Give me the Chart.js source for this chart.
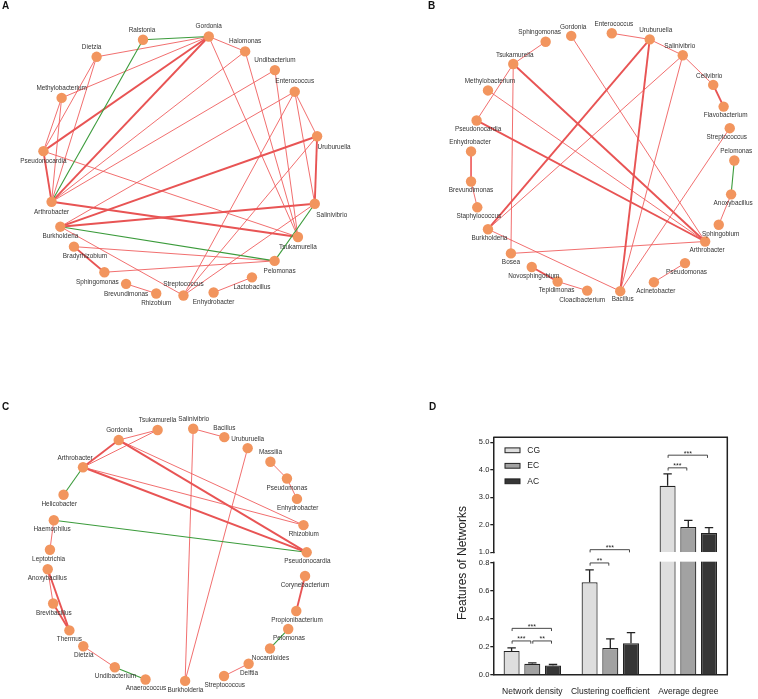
<!DOCTYPE html>
<html>
<head>
<meta charset="utf-8">
<script src="https://cdn.jsdelivr.net/npm/chart.js"></script>
<style>
  body { margin: 0; background: #fff; }
  #wrap { position: relative; width: 758px; height: 699px; overflow: hidden; }
  canvas { position: absolute; }
  .tag { position: absolute; font: bold 10px Arial, "Liberation Sans", sans-serif; color: #111; line-height: 10px; }
</style>
</head>
<body>
<div id="wrap">
  <canvas id="netA" width="379" height="330" style="left:0;top:0"></canvas>
  <canvas id="netB" width="379" height="330" style="left:379px;top:0"></canvas>
  <canvas id="netC" width="379" height="359" style="left:0;top:340px"></canvas>
  <canvas id="barsD" width="379" height="359" style="left:379px;top:340px"></canvas>
  <div class="tag" style="left:2px;top:1px">A</div>
  <div class="tag" style="left:428px;top:1px">B</div>
  <div class="tag" style="left:2px;top:402px">C</div>
  <div class="tag" style="left:429px;top:402px">D</div>
</div>
<script>
// ---- network A (CG) ----
const namesA = ["Ralstonia", "Gordonia", "Halomonas", "Undibacterium", "Enterococcus", "Uruburuella",
    "Salinivibrio", "Tsukamurella", "Pelomonas", "Lactobacillus", "Enhydrobacter", "Streptococcus",
    "Rhizobium", "Brevundimonas", "Sphingomonas", "Bradyrhizobium", "Burkholderia", "Arthrobacter",
    "Pseudonocardia", "Methylobacterium", "Dietzia"];
const xA = [141.7, 209.3, 246.7, 277.3, 297.7, 320.7, 318.3, 301, 277, 253.7, 214.3, 183.3,
    155.3, 124.3, 102, 70.7, 56.7, 47.7, 39.3, 58, 94];
const yA = [35.7, 32.3, 47.7, 67, 89.3, 135.3, 205, 239.3, 264, 281, 296.7, 299.7,
    297.7, 287.7, 275.7, 249.3, 228.7, 203, 150.7, 95.7, 53.3];
// [from, to, sign (+1 positive / -1 negative), weight]
const edgesA = [
    ["Ralstonia", "Gordonia", -1, 1], ["Ralstonia", "Arthrobacter", -1, 1],
    ["Burkholderia", "Pelomonas", -1, 1], ["Salinivibrio", "Pelomonas", -1, 1],
    ["Dietzia", "Gordonia", 1, 1], ["Gordonia", "Halomonas", 1, 1],
    ["Gordonia", "Methylobacterium", 1, 1], ["Gordonia", "Pseudonocardia", 1, 2],
    ["Gordonia", "Arthrobacter", 1, 2], ["Gordonia", "Tsukamurella", 1, 1],
    ["Halomonas", "Tsukamurella", 1, 1], ["Halomonas", "Arthrobacter", 1, 1],
    ["Undibacterium", "Tsukamurella", 1, 1], ["Undibacterium", "Arthrobacter", 1, 1],
    ["Enterococcus", "Uruburuella", 1, 1], ["Enterococcus", "Salinivibrio", 1, 1],
    ["Enterococcus", "Streptococcus", 1, 1], ["Enterococcus", "Burkholderia", 1, 1],
    ["Uruburuella", "Salinivibrio", 1, 2], ["Uruburuella", "Burkholderia", 1, 2],
    ["Uruburuella", "Streptococcus", 1, 1], ["Salinivibrio", "Burkholderia", 1, 2],
    ["Salinivibrio", "Streptococcus", 1, 1], ["Arthrobacter", "Tsukamurella", 1, 2],
    ["Pseudonocardia", "Tsukamurella", 1, 1], ["Burkholderia", "Streptococcus", 1, 1],
    ["Bradyrhizobium", "Pelomonas", 1, 1], ["Bradyrhizobium", "Sphingomonas", 1, 2],
    ["Sphingomonas", "Pelomonas", 1, 1], ["Brevundimonas", "Rhizobium", 1, 1],
    ["Enhydrobacter", "Lactobacillus", 1, 1], ["Dietzia", "Pseudonocardia", 1, 1],
    ["Dietzia", "Arthrobacter", 1, 1], ["Methylobacterium", "Pseudonocardia", 1, 1],
    ["Methylobacterium", "Arthrobacter", 1, 1], ["Pseudonocardia", "Arthrobacter", 1, 2]
];

// ---- network B (EC) ----
const namesB = ["Sphingomonas", "Gordonia", "Enterococcus", "Uruburuella", "Salinivibrio", "Cellvibrio",
    "Flavobacterium", "Streptococcus", "Pelomonas", "Anoxybacillus", "Sphingobium", "Arthrobacter",
    "Pseudomonas", "Acinetobacter", "Bacillus", "Cloacibacterium", "Tepidimonas", "Novosphingobium",
    "Bosea", "Burkholderia", "Staphylococcus", "Brevundimonas", "Enhydrobacter", "Pseudonocardia",
    "Methylobacterium", "Tsukamurella"];
const xB = [545, 571.3, 613, 652, 686, 717.3, 728, 734.3, 739, 735.7, 723, 709, 688.3, 656.3,
    621.7, 587.7, 557.3, 530.7, 509.3, 485.7, 474.7, 468.3, 468.3, 474, 485.7, 511.7];
const yB = [37.7, 31.7, 29, 35.3, 51.7, 82.3, 104.7, 127, 160.3, 195.3, 226.7, 244, 266.3, 286,
    295.3, 294.7, 285.3, 270.3, 256.3, 231.3, 208.7, 182, 151, 119, 88, 60.7];
const edgesB = [
    ["Sphingomonas", "Tsukamurella", 1, 1], ["Enterococcus", "Uruburuella", 1, 1],
    ["Uruburuella", "Salinivibrio", 1, 1], ["Salinivibrio", "Cellvibrio", 1, 1],
    ["Cellvibrio", "Flavobacterium", 1, 2], ["Pelomonas", "Anoxybacillus", -1, 1],
    ["Anoxybacillus", "Sphingobium", 1, 1], ["Pseudomonas", "Acinetobacter", 1, 1],
    ["Novosphingobium", "Tepidimonas", 1, 2], ["Tepidimonas", "Cloacibacterium", 1, 1],
    ["Enhydrobacter", "Brevundimonas", 1, 1], ["Brevundimonas", "Staphylococcus", 1, 1],
    ["Tsukamurella", "Pseudonocardia", 1, 1], ["Tsukamurella", "Bosea", 1, 1],
    ["Tsukamurella", "Arthrobacter", 1, 2], ["Gordonia", "Arthrobacter", 1, 1],
    ["Methylobacterium", "Arthrobacter", 1, 1], ["Pseudonocardia", "Arthrobacter", 1, 2],
    ["Uruburuella", "Burkholderia", 1, 2], ["Salinivibrio", "Burkholderia", 1, 1],
    ["Uruburuella", "Bacillus", 1, 2], ["Salinivibrio", "Bacillus", 1, 1],
    ["Streptococcus", "Bacillus", 1, 1], ["Burkholderia", "Bacillus", 1, 1],
    ["Bosea", "Arthrobacter", 1, 1]
];

// ---- network C (AC) ----
const namesC = ["Tsukamurella", "Salinivibrio", "Bacillus", "Uruburuella", "Massilia", "Pseudomonas",
    "Enhydrobacter", "Rhizobium", "Pseudonocardia", "Corynebacterium", "Propionibacterium", "Pelomonas",
    "Nocardioides", "Delftia", "Streptococcus", "Burkholderia", "Anaerococcus", "Undibacterium",
    "Dietzia", "Thermus", "Brevibacillus", "Anoxybacillus", "Leptotrichia", "Haemophilus",
    "Helicobacter", "Arthrobacter", "Gordonia"];
const xC = [156.7, 193.3, 225.3, 249.3, 272.7, 289.7, 300, 306.7, 310, 308.3, 299.3, 291, 272.3,
    250.3, 225, 185, 144.3, 112.7, 80.3, 66, 49.3, 43.7, 46, 50, 60, 80, 116.7];
const yC = [87.3, 86, 94.7, 106, 120, 137.3, 158.3, 185.3, 213.3, 237.7, 273.7, 292.3, 312.3,
    328, 340.7, 345.7, 344.3, 331.7, 310, 293.7, 266, 230.7, 210.7, 180.3, 154, 125.7, 97.7];
const edgesC = [
    ["Gordonia", "Tsukamurella", 1, 1], ["Arthrobacter", "Gordonia", 1, 2],
    ["Arthrobacter", "Tsukamurella", 1, 1], ["Arthrobacter", "Helicobacter", -1, 1],
    ["Arthrobacter", "Rhizobium", 1, 1], ["Arthrobacter", "Pseudonocardia", 1, 2],
    ["Gordonia", "Rhizobium", 1, 1], ["Gordonia", "Pseudonocardia", 1, 2],
    ["Haemophilus", "Pseudonocardia", -1, 1], ["Salinivibrio", "Bacillus", 1, 1],
    ["Salinivibrio", "Burkholderia", 1, 1], ["Uruburuella", "Burkholderia", 1, 1],
    ["Massilia", "Pseudomonas", 1, 1], ["Pseudomonas", "Enhydrobacter", 1, 1],
    ["Corynebacterium", "Propionibacterium", 1, 2], ["Pelomonas", "Nocardioides", -1, 1],
    ["Delftia", "Streptococcus", 1, 1], ["Haemophilus", "Leptotrichia", 1, 1],
    ["Anoxybacillus", "Brevibacillus", 1, 1], ["Anoxybacillus", "Thermus", 1, 2],
    ["Brevibacillus", "Thermus", 1, 2], ["Dietzia", "Undibacterium", 1, 1],
    ["Undibacterium", "Anaerococcus", -1, 1]
];

// ---- panel D: network features ----
const featureNames = ["Network density", "Clustering coefficient", "Average degree"];
const groupNames = ["CG", "EC", "AC"];
const meanCG = [0.17, 0.66, 3.42];
const meanEC = [0.078, 0.19, 1.92];
const meanAC = [0.065, 0.225, 1.70];
const errCG = [0.022, 0.088, 0.43];
const errEC = [0.007, 0.066, 0.24];
const errAC = [0.008, 0.076, 0.20];
const lowTicks = [0, 0.2, 0.4, 0.6, 0.8];
const highTicks = [1, 2, 3, 4, 5];
// significance brackets: category, group a, group b, stars, height (axis units)
const sigFeature = [0, 0, 0, 1, 1, 2, 2];
const sigFrom = [0, 0, 1, 0, 0, 0, 0];
const sigTo = [2, 1, 2, 2, 1, 2, 1];
const sigStars = ["***", "***", "**", "***", "**", "***", "***"];
const sigLevel = [0.331, 0.241, 0.241, 1.095, 0.798, 4.53, 4.07];

// label offsets from each node (px), same order as names
const labelOffA = [[-1, -10], [0, -10], [0, -10], [0, -10], [0, -10], [17, 11], [17, 11], [0, 10],
    [5, 10], [0, 10], [0, 10], [0, -11], [0, 10], [0, 10], [-7, 10], [11, 9.5], [0, 10], [0, 10],
    [0, 10], [0, -10], [-5, -10]];
const labelOffB = [[-6, -9], [2, -9], [2, -9], [6, -9], [-3, -9], [-4, -9], [2, 9], [-3, 9], [2, -9],
    [2, 9], [2, 9], [2, 9], [1.5, 9], [2, 9], [2.5, 8.5], [-5, 9.5], [-1, 9], [2, 9], [0, 9],
    [1.5, 9], [1.5, 9], [0, 9], [-1, -9], [1.5, 9], [2, -9], [1.5, -9]];
const labelOffC = [[0, -9.3], [0.5, -9.3], [0, -9.3], [0, -9.3], [0, -9.3], [0, 9.3], [0.7, 9.3],
    [0.3, 9.3], [0.7, 9.3], [0, 9.3], [0.7, 9.3], [0.7, 9.3], [0.4, 9.3], [0.4, 9.3], [0.7, 9.3],
    [0.3, 9.3], [0.4, 9], [0.6, 9.3], [0.4, 9.3], [0, 9.3], [0.7, 9.3], [-0.4, 9], [-1.3, 9.3],
    [-1.7, 9.4], [-4.3, 9], [-8, -9.4], [0.6, -9.4]];

const FONT = 'Arial, "Liberation Sans", sans-serif';
Chart.defaults.font.family = FONT;
Chart.defaults.color = "#222";

const nodeColor = "#f2955e";
const posColor = ["rgba(238, 86, 86, 0.85)", "#e85454"];
const negColor = "#3b9b3b";

function drawNetwork(canvasId, names, xs, ys, edges, labelOff, x0, y0, w, h) {
    const nodeData = names.map((n, i) => ({ x: xs[i], y: ys[i] }));
    const edgeSets = edges.map((e) => {
        const a = names.indexOf(e[0]);
        const b = names.indexOf(e[1]);
        return {
            data: [nodeData[a], nodeData[b]],
            showLine: true,
            borderColor: e[2] < 0 ? negColor : posColor[e[3] - 1],
            borderWidth: e[2] < 0 ? 1.1 : (e[3] === 2 ? 1.9 : 1),
            pointRadius: 0,
            pointHoverRadius: 0,
            clip: false,
        };
    });
    const nodeLabels = {
        id: "nodeLabels",
        afterDatasetsDraw(chart) {
            const ctx = chart.ctx;
            const meta = chart.getDatasetMeta(0);
            ctx.save();
            ctx.font = "6.4px " + FONT;
            ctx.fillStyle = "#333";
            ctx.textAlign = "center";
            ctx.textBaseline = "middle";
            meta.data.forEach((pt, i) => {
                ctx.fillText(names[i], pt.x + labelOff[i][0], pt.y + labelOff[i][1]);
            });
            ctx.restore();
        },
    };
    return new Chart(document.getElementById(canvasId), {
        type: "scatter",
        data: {
            datasets: [
                {
                    data: nodeData,
                    pointRadius: 5.2,
                    pointHoverRadius: 5.2,
                    pointBackgroundColor: nodeColor,
                    pointBorderWidth: 0,
                    clip: false,
                },
            ].concat(edgeSets),
        },
        options: {
            responsive: false,
            animation: false,
            events: [],
            layout: { padding: 0 },
            plugins: { legend: { display: false }, tooltip: { enabled: false } },
            scales: {
                x: { type: "linear", min: x0, max: x0 + w, display: false },
                y: { type: "linear", min: y0, max: y0 + h, reverse: true, display: false },
            },
        },
        plugins: [nodeLabels],
    });
}

drawNetwork("netA", namesA, xA, yA, edgesA, labelOffA, 0, 0, 379, 330);
drawNetwork("netB", namesB, xB, yB, edgesB, labelOffB, 379, 0, 379, 330);
drawNetwork("netC", namesC, xC, yC, edgesC, labelOffC, 0, 0, 379, 359);

// ---- bar chart with broken y axis ----
const means = [meanCG, meanEC, meanAC];
const errs = [errCG, errEC, errAC];
const barColors = ["#dedede", "#a2a2a2", "#363636"];
const lowMax = 0.874;
const lowClip = 0.85;
const upMin = 1.0;
const upMax = 5.18;

const barStyle = {
    borderColor: "#222",
    borderWidth: 1.2,
    borderSkipped: "bottom",
    categoryPercentage: 0.796,
    barPercentage: 0.773,
};

const lowerSets = groupNames.map((g, gi) => Object.assign({
    label: g,
    data: means[gi].map((v) => Math.min(v, lowClip)),
    yAxisID: "yLow",
    stack: g,
    backgroundColor: barColors[gi],
}, barStyle));
const upperSets = groupNames.map((g, gi) => Object.assign({
    label: g,
    data: means[gi].map((v) => (v > upMin ? [upMin, v] : null)),
    yAxisID: "yUp",
    stack: g,
    backgroundColor: barColors[gi],
}, barStyle));

const extrasD = {
    id: "extrasD",
    afterDatasetsDraw(chart) {
        const { ctx, chartArea: a, scales } = chart;
        const lo = scales.yLow;
        const hi = scales.yUp;
        const pix = (v) => (v > 0.9 ? hi.getPixelForValue(v) : lo.getPixelForValue(v));
        const barX = (gi, j) => chart.getDatasetMeta(gi).data[j].x;
        ctx.save();
        // axis break
        const gTop = hi.getPixelForValue(upMin) + 1;
        const gBot = lo.getPixelForValue(0.8) - 1;
        ctx.fillStyle = "#fff";
        ctx.fillRect(a.left - 1.8, gTop, a.right - a.left + 0.8, gBot - gTop);
        // error bars
        ctx.strokeStyle = "#222";
        ctx.lineWidth = 1.3;
        groupNames.forEach((g, gi) => {
            means[gi].forEach((m, j) => {
                const x = barX(gi, j);
                const yTop = pix(m + errs[gi][j]);
                ctx.beginPath();
                ctx.moveTo(x, pix(m));
                ctx.lineTo(x, yTop);
                ctx.moveTo(x - 4.2, yTop);
                ctx.lineTo(x + 4.2, yTop);
                ctx.stroke();
            });
        });
        // significance brackets
        ctx.strokeStyle = "#333";
        ctx.lineWidth = 0.9;
        ctx.fillStyle = "#222";
        ctx.font = "7px " + FONT;
        ctx.textAlign = "center";
        ctx.textBaseline = "alphabetic";
        sigFeature.forEach((c, k) => {
            const x1 = barX(sigFrom[k], c) + 0.5;
            const x2 = barX(sigTo[k], c) - 1.5;
            const y = pix(sigLevel[k]);
            ctx.beginPath();
            ctx.moveTo(x1, y + 2.7);
            ctx.lineTo(x1, y);
            ctx.lineTo(x2, y);
            ctx.lineTo(x2, y + 2.7);
            ctx.stroke();
            ctx.fillText(sigStars[k], (x1 + x2) / 2, y + 0.5);
        });
        // legend
        ctx.strokeStyle = "#222";
        ctx.font = "8.5px " + FONT;
        ctx.textAlign = "left";
        ctx.textBaseline = "middle";
        ctx.lineWidth = 1;
        groupNames.forEach((g, gi) => {
            const cy = a.top + 13 + gi * 15.5;
            ctx.fillStyle = barColors[gi];
            ctx.fillRect(a.left + 11.7, cy - 2.4, 15, 4.8);
            ctx.strokeRect(a.left + 11.7, cy - 2.4, 15, 4.8);
            ctx.fillStyle = "#222";
            ctx.fillText(g, a.left + 34, cy);
        });
        // frame
        ctx.lineWidth = 1.5;
        ctx.beginPath();
        ctx.moveTo(a.left, a.top);
        ctx.lineTo(a.right, a.top);
        ctx.lineTo(a.right, a.bottom);
        ctx.stroke();
        // y title
        ctx.translate(a.left - 31, (a.top + a.bottom) / 2 + 7);
        ctx.rotate(-Math.PI / 2);
        ctx.textAlign = "center";
        ctx.font = "12px " + FONT;
        ctx.fillText("Features of Networks", 0, 0);
        ctx.restore();
    },
};

const yCommon = {
    type: "linear",
    position: "left",
    stack: "broken",
    stacked: false,
    afterFit: (s) => { s.width = 20; },
    ticks: { font: { size: 7.5 }, color: "#222", padding: 1, callback: (v) => Number(v).toFixed(1) },
    grid: { drawOnChartArea: false, drawTicks: true, tickLength: 3, tickColor: "#222", lineWidth: 1.3 },
    border: { color: "#222", width: 1.5 },
};

new Chart(document.getElementById("barsD"), {
    type: "bar",
    data: { labels: featureNames, datasets: lowerSets.concat(upperSets) },
    options: {
        responsive: false,
        animation: false,
        events: [],
        layout: { padding: { left: 94.3, right: 30.7, top: 97.3, bottom: 0.3 } },
        plugins: { legend: { display: false }, tooltip: { enabled: false } },
        scales: {
            x: {
                grid: { display: false },
                border: { color: "#222", width: 1.5 },
                ticks: { font: { size: 8.5 }, color: "#222", padding: 4, maxRotation: 0, autoSkip: false },
                afterFit: (s) => { s.height = 24; },
            },
            yLow: Object.assign({}, yCommon, {
                min: 0, max: lowMax, stackWeight: 122.4, weight: 0,
                afterBuildTicks: (s) => { s.ticks = lowTicks.map((v) => ({ value: v })); },
            }),
            yUp: Object.assign({}, yCommon, {
                min: upMin, max: upMax, stackWeight: 115, weight: 1,
                afterBuildTicks: (s) => { s.ticks = highTicks.map((v) => ({ value: v })); },
            }),
        },
    },
    plugins: [extrasD],
});
</script>
</body>
</html>
